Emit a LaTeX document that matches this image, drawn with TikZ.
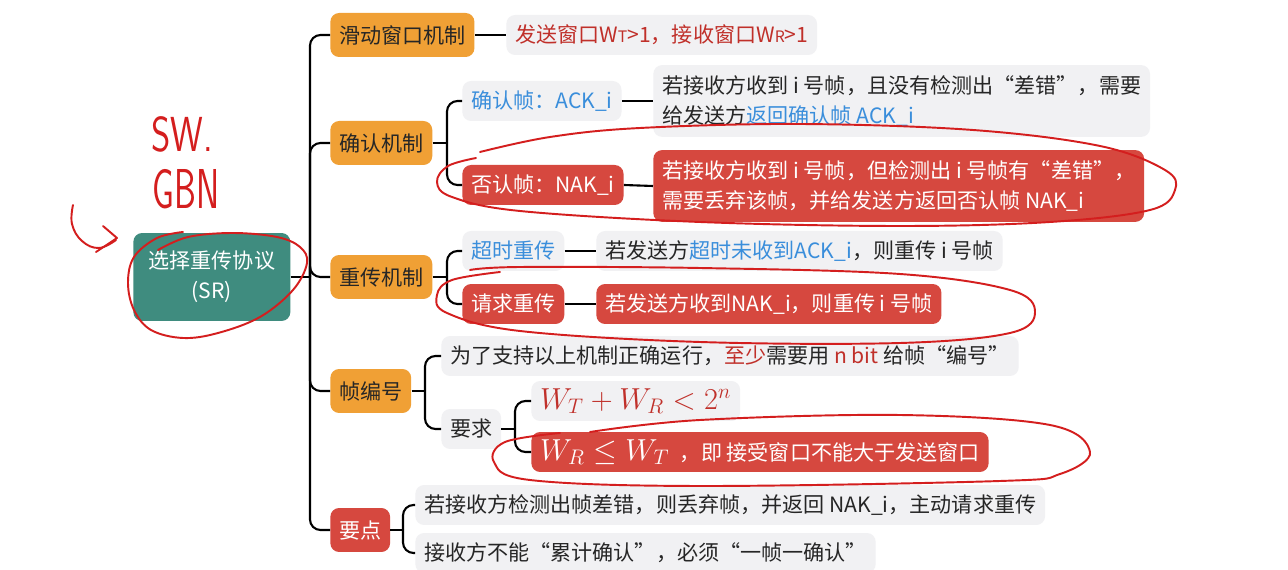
\documentclass[tikz,border=0pt]{standalone}
\usepackage{fontspec}
\setmainfont{Noto Sans CJK SC}
\usetikzlibrary{positioning}
\definecolor{srteal}{HTML}{3F8C7F}
\definecolor{knotorange}{HTML}{F0A035}
\definecolor{alertred}{HTML}{D6483F}
\definecolor{leafgray}{HTML}{F1F1F3}
\definecolor{linkblue}{HTML}{3A8EDB}
\definecolor{inkred}{HTML}{C0302A}
\definecolor{penred}{HTML}{D41E1E}
\newcommand{\blu}[1]{\textcolor{linkblue}{#1}}
\newcommand{\drd}[1]{\textcolor{inkred}{#1}}
\newcommand{\smallsub}[1]{{\fontsize{9}{9}\selectfont #1}}
\tikzset{
  basebox/.style={rounded corners=5pt, anchor=west, inner xsep=5pt, inner ysep=4pt,
    font=\fontsize{12}{17}\selectfont},
  rootbox/.style={basebox, fill=srteal, text=white, align=center,
    minimum width=3.14cm, minimum height=1.76cm},
  branchbox/.style={basebox, fill=knotorange, text=black!85, minimum height=0.88cm},
  leafbox/.style={basebox, fill=leafgray, text=black!85, minimum height=0.8cm},
  alertbox/.style={basebox, fill=alertred, text=white, minimum height=0.8cm},
  link/.style={line width=1.2pt, rounded corners=6pt},
  pen/.style={draw=penred, line width=1.1pt, line cap=round, line join=round},
}

\begin{document}
\begin{tikzpicture}[x=0.02cm, y=-0.02cm]
\useasboundingbox[fill=white] (0,0) rectangle (1288,570);

% root and first level
\node[rootbox] (sr) at (133,277) {选择重传协议\\(SR)};
\node[branchbox] (slide) at (330,35) {滑动窗口机制};
\node[branchbox] (ack) at (330,143) {确认机制};
\node[branchbox] (retx) at (330,277) {重传机制};
\node[branchbox] (seq) at (330,391) {帧编号};
\node[branchbox, fill=alertred, text=white] (keys) at (330,530) {要点};

% sliding window
\node[leafbox, text=inkred] (slideleaf) at (506,35)
  {发送窗口W\smallsub{T}>1，接收窗口W\smallsub{R}>1};

% acknowledgement
\node[leafbox, text=linkblue] (acktag) at (462,101) {确认帧：ACK\_i};
\node[alertbox] (naktag) at (462,185) {否认帧：NAK\_i};
\node[leafbox, align=left, inner ysep=6pt] (ackleaf) at (653,101)
  {若接收方收到 i 号帧，且没有检测出“差错”，需要\\给发送方\blu{返回确认帧 ACK\_i}};
\node[alertbox, align=left, inner ysep=6pt] (nakleaf) at (653,186)
  {若接收方收到 i 号帧，但检测出 i 号帧有“差错”，\\需要丢弃该帧，并给发送方返回否认帧 NAK\_i};

% retransmission
\node[leafbox, text=linkblue] (timeout) at (462,251) {超时重传};
\node[alertbox] (request) at (462,304) {请求重传};
\node[leafbox] (timeoutleaf) at (596,251) {若发送方\blu{超时未收到ACK\_i}，则重传 i 号帧};
\node[alertbox] (requestleaf) at (596,304) {若发送方收到NAK\_i，则重传 i 号帧};

% sequence numbers
\node[leafbox] (seqleaf) at (441,356) {为了支持以上机制正确运行，\drd{至少}需要用 \drd{n bit} 给帧“编号”};
\node[leafbox] (need) at (441,429) {要求};
\node[leafbox, text=inkred] (sum) at (531,401) {\fontsize{17}{17}\selectfont $W_T+W_R<2^n$};
\node[alertbox] (limit) at (531,452)
  {{\fontsize{17}{17}\selectfont $W_R\le W_T$} \;，即 接受窗口不能大于发送窗口};

% key points
\node[leafbox] (key1) at (415,505) {若接收方检测出帧差错，则丢弃帧，并返回 NAK\_i，主动请求重传};
\node[leafbox] (key2) at (415,553) {接收方不能“累计确认”，必须“一帧一确认”};

% connectors
\coordinate (j0) at (310,277);
\coordinate (j1) at (447,143);
\coordinate (j2) at (447,277);
\coordinate (j3) at (425,391);
\coordinate (j4) at (515,429);
\coordinate (j5) at (403,530);
\draw[link] (sr.east) -- (j0);
\foreach \b in {slide,ack,retx,seq,keys}
  \draw[link] (j0) |- (\b.west);
\draw[link] (ack.east) -- (j1);
\draw[link] (j1) |- (acktag.west);
\draw[link] (j1) |- (naktag.west);
\draw[link] (retx.east) -- (j2);
\draw[link] (j2) |- (timeout.west);
\draw[link] (j2) |- (request.west);
\draw[link] (seq.east) -- (j3);
\draw[link] (j3) |- (seqleaf.west);
\draw[link] (j3) |- (need.west);
\draw[link] (need.east) -- (j4);
\draw[link] (j4) |- (sum.west);
\draw[link] (j4) |- (limit.west);
\draw[link] (keys.east) -- (j5);
\draw[link] (j5) |- (key1.west);
\draw[link] (j5) |- (key2.west);
\draw[link] (slide.east) -- (slideleaf.west);
\draw[link] (acktag.east) -- (ackleaf.west);
\draw[link] (naktag.east) -- (nakleaf.west);
\draw[link] (timeout.east) -- (timeoutleaf.west);
\draw[link] (request.east) -- (requestleaf.west);

% hand-drawn notes
\node[text=penred, font=\sffamily\fontsize{28}{28}\selectfont, xscale=0.75, inner sep=0pt] (swnote) at (182,134) {SW.};
\node[text=penred, font=\sffamily\fontsize{32}{32}\selectfont, xscale=0.62, inner sep=0pt] (gbnnote) at (186,189) {GBN};
\draw[pen] plot[smooth, tension=0.7] coordinates {(73,205) (72,224) (82,241) (99,248) (116,240)};
\draw[pen] (103,226) -- (117,238) -- (96,252);
\draw[pen] plot[smooth, tension=0.6] coordinates {(183,232) (157,238) (134,257) (128,283) (134,310) (151,330) (183,338) (218,333) (260,317) (293,290) (307,263) (300,247) (277,237) (233,233) (188,237) (158,250)};
\draw[pen] plot[smooth, tension=0.6] coordinates {(480,152) (550,137) (640,128) (800,124) (973,130) (1100,146) (1165,170) (1175,190) (1150,210) (1050,222) (900,226) (700,222) (520,211) (452,197) (437,182) (448,166) (476,158)};
\draw[pen] plot[smooth, tension=0.6] coordinates {(470,270) (520,267) (700,268) (900,274) (1010,290) (1035,312) (1010,333) (900,343) (700,342) (520,331) (447,313) (437,295) (452,280) (500,272)};
\draw[pen] plot[smooth, tension=0.6] coordinates {(590,432) (700,420) (900,415) (1050,425) (1090,452) (1060,474) (1000,481) (700,486) (530,480) (494,462) (505,442) (560,433)};
\end{tikzpicture}
\end{document}
